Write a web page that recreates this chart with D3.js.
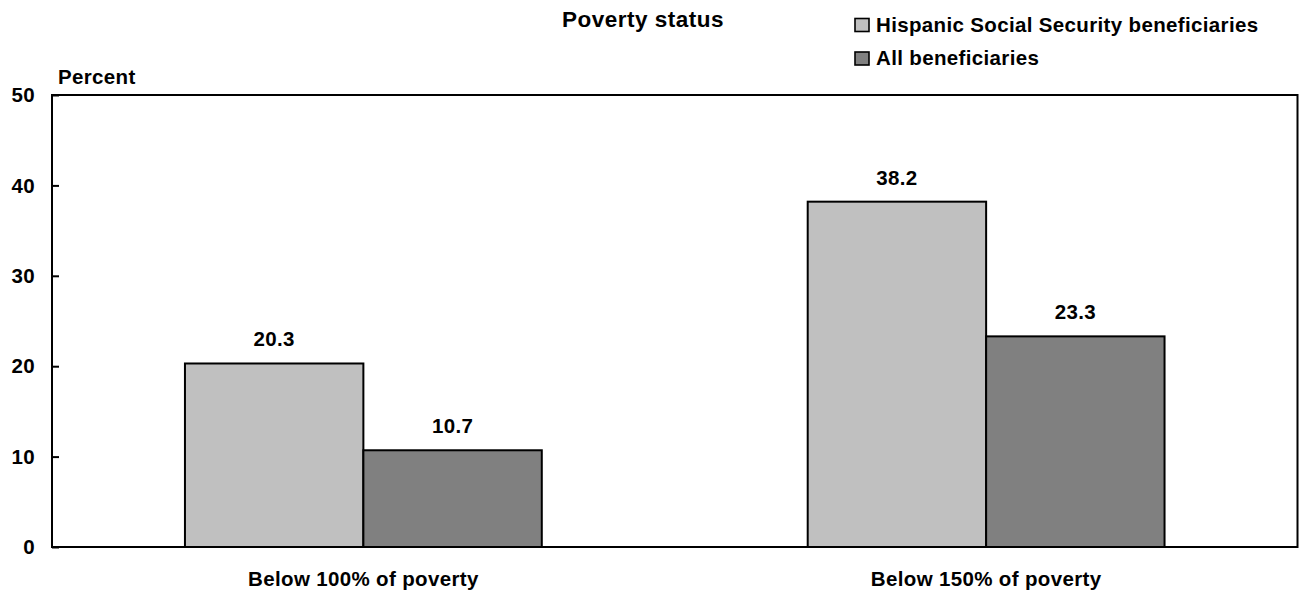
<!DOCTYPE html>
<html>
<head>
<meta charset="utf-8">
<script src="https://cdn.jsdelivr.net/npm/d3@7"></script>
<style>
  html, body { margin: 0; padding: 0; background: #fff; }
  svg { display: block; font-family: "Liberation Sans", Arial, Helvetica, sans-serif; font-weight: bold; }
</style>
</head>
<body>
<svg id="chart" width="1299" height="594"></svg>
<script>
const categories = ["Below 100% of poverty", "Below 150% of poverty"];
const seriesNames = ["Hispanic Social Security beneficiaries", "All beneficiaries"];
const hispanicValues = [20.3, 38.2];
const allValues = [10.7, 23.3];
const yTicks = [0, 10, 20, 30, 40, 50];
const seriesColors = ["#c0c0c0", "#808080"];

const svg = d3.select("#chart");
const margin = { left: 52, right: 1297.5, top: 95, bottom: 547 };
const fs = 20.5, ls = 0.35;

const x = d3.scaleBand().domain(categories).range([margin.left, margin.right]).padding(0);
const bw = x.bandwidth();
const xs = d3.scaleBand().domain(seriesNames).range([bw * 0.2135, bw * 0.7865]).padding(0);
const y = d3.scaleLinear().domain([0, 50]).range([margin.bottom, margin.top]);

const seriesValues = [hispanicValues, allValues];
const data = [];
categories.forEach((c, i) => seriesNames.forEach((s, j) => data.push({ cat: c, series: s, value: seriesValues[j][i], color: seriesColors[j] })));

// Bars
svg.append("g").selectAll("rect").data(data).join("rect")
  .attr("x", d => x(d.cat) + xs(d.series))
  .attr("y", d => y(d.value))
  .attr("width", xs.bandwidth())
  .attr("height", d => y(0) - y(d.value))
  .attr("fill", d => d.color)
  .attr("stroke", "#000")
  .attr("stroke-width", 2);

// Value labels
svg.append("g").selectAll("text").data(data).join("text")
  .attr("x", d => x(d.cat) + xs(d.series) + xs.bandwidth() / 2)
  .attr("y", d => y(d.value) - 17)
  .attr("text-anchor", "middle")
  .attr("font-size", fs).attr("letter-spacing", ls)
  .text(d => d.value.toFixed(1));

// Frame
svg.append("rect")
  .attr("x", margin.left).attr("y", margin.top)
  .attr("width", margin.right - margin.left).attr("height", margin.bottom - margin.top)
  .attr("fill", "none").attr("stroke", "#000").attr("stroke-width", 2);

// Y axis with inward ticks
const yAxis = d3.axisRight(y).tickValues(yTicks).tickSize(7).tickFormat("");
const ga = svg.append("g").attr("transform", `translate(${margin.left},0)`).call(yAxis);
ga.select(".domain").remove();
ga.selectAll(".tick line").attr("stroke", "#000").attr("stroke-width", 2);

svg.append("g").selectAll("text").data(yTicks).join("text")
  .attr("x", 35).attr("y", d => y(d))
  .attr("dy", "0.35em")
  .attr("text-anchor", "end")
  .attr("font-size", fs).attr("letter-spacing", ls)
  .text(d => d);

// Percent label
svg.append("text").attr("x", 58).attr("y", 84)
  .attr("font-size", fs).attr("letter-spacing", ls).text("Percent");

// Category labels
const xAxis = d3.axisBottom(x).tickSize(0);
const gx = svg.append("g").attr("transform", `translate(0,${margin.bottom})`).call(xAxis);
gx.select(".domain").remove();
gx.selectAll(".tick text")
  .attr("y", 0).attr("dy", 0)
  .attr("transform", "translate(0,39)")
  .attr("fill", "#000")
  .attr("font-family", "Liberation Sans, Arial, sans-serif")
  .attr("font-weight", "bold")
  .attr("font-size", fs).attr("letter-spacing", ls);

// Title
svg.append("text").attr("x", 643).attr("y", 27)
  .attr("text-anchor", "middle")
  .attr("font-size", 22.5).attr("letter-spacing", 0.5)
  .text("Poverty status");

// Legend
const leg = svg.append("g").selectAll("g").data(seriesNames).join("g")
  .attr("transform", (d, i) => `translate(855,${18.5 + i * 33.5})`);
leg.append("rect").attr("width", 14).attr("height", 13)
  .attr("fill", (d, i) => seriesColors[i]).attr("stroke", "#000").attr("stroke-width", 1.6);
leg.append("text").attr("x", 21).attr("y", 13.2)
  .attr("font-size", fs).attr("letter-spacing", ls)
  .text(d => d);
</script>
</body>
</html>
